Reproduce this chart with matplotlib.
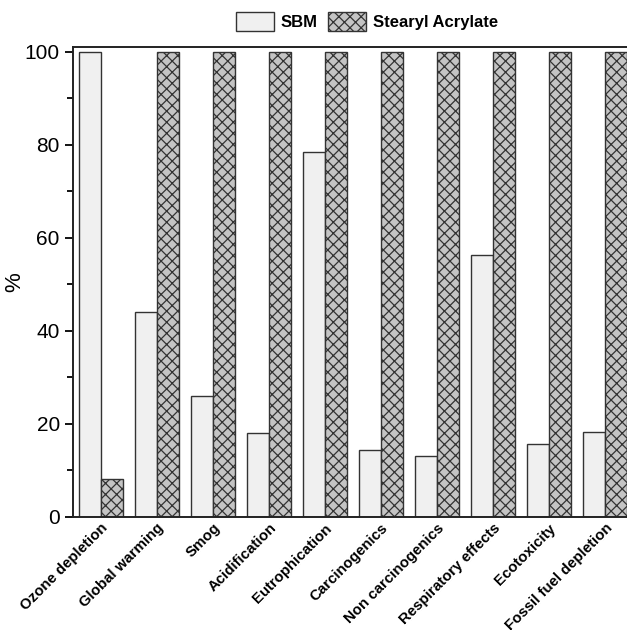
import matplotlib
matplotlib.use("Agg")
import matplotlib.pyplot as plt
import numpy as np

categories = ["Ozone depletion", "Global warming", "Smog", "Acidification", "Eutrophication",
              "Carcinogenics", "Non carcinogenics", "Respiratory effects", "Ecotoxicity",
              "Fossil fuel depletion"]
sbm = [100, 44, 26, 18, 78.5, 14.5, 13, 56.2, 15.6, 18.3]
stearyl = [8.2, 100, 100, 100, 100, 100, 100, 100, 100, 100]

plt.rcParams["font.family"] = ["Liberation Sans", "DejaVu Sans"]
plt.rcParams["hatch.color"] = "#333333"
plt.rcParams["hatch.linewidth"] = 0.9

fig = plt.figure(figsize=(6.27, 6.30), dpi=100)
ax = fig.add_axes([0.1164, 0.1794, 0.893, 0.746])

x = np.arange(len(categories))
w = 0.4
ax.bar(x - w / 2, sbm, w, color="#f0f0f0", edgecolor="#333333", linewidth=1.0, label="SBM")
ax.bar(x + w / 2, stearyl, w, color="#c4c4c4", edgecolor="#333333", linewidth=1.0,
       hatch="xxx", label="Stearyl Acrylate")

ax.set_xlim(-0.5, 9.5)
ax.set_ylim(0, 101)
ax.set_yticks([0, 20, 40, 60, 80, 100])
ax.set_yticks([10, 30, 50, 70, 90], minor=True)
ax.tick_params(axis="y", which="major", length=6, width=1.3, labelsize=15, direction="out")
ax.tick_params(axis="y", which="minor", length=4, width=1.3, direction="out")
ax.set_xticks(x)
ax.set_xticklabels(categories, rotation=45, ha="right", rotation_mode="anchor",
                   fontsize=10.8, fontweight="bold")
ax.tick_params(axis="x", length=0, pad=3)
for s in ax.spines.values():
    s.set_linewidth(1.4)
    s.set_color("#222222")
ax.set_ylabel("%", fontsize=16)
ax.yaxis.set_label_coords(-0.085, 0.5)

leg = fig.legend(loc="center", ncol=2, frameon=False,
                 prop={"weight": "bold", "size": 12}, handlelength=2.3, handleheight=1.4,
                 columnspacing=0.6, handletextpad=0.4)
leg.set_bbox_to_anchor((0.585, 0.966), transform=fig.transFigure)

fig.savefig("out.png", dpi=100)
